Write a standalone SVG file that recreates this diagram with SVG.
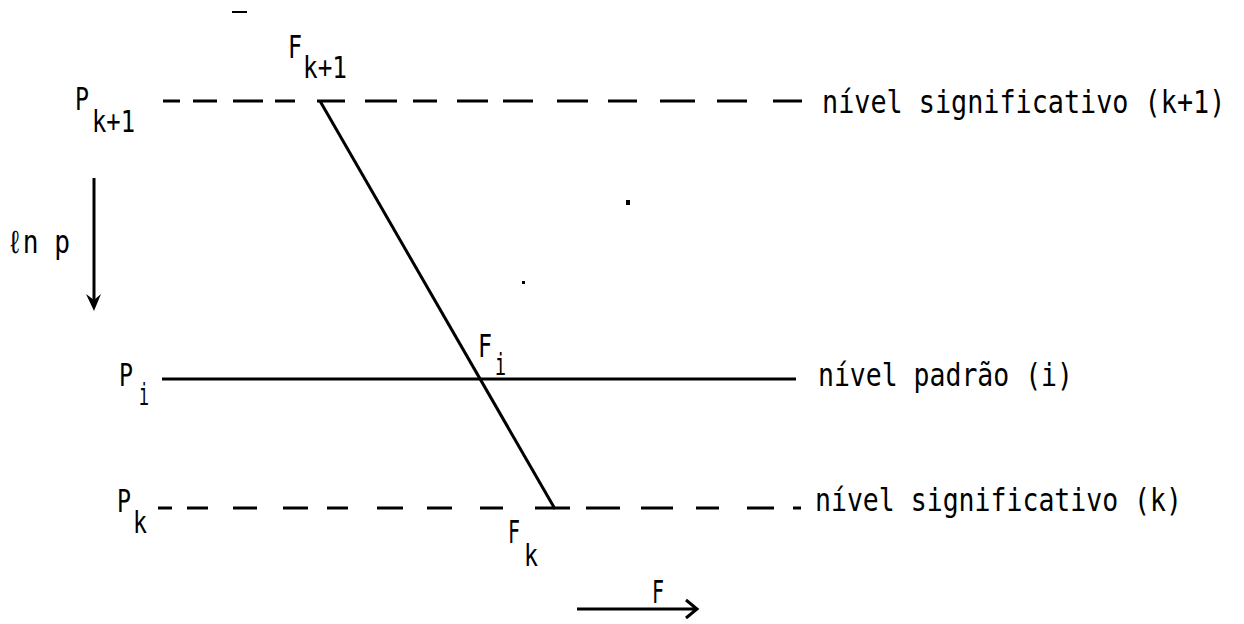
<svg xmlns="http://www.w3.org/2000/svg" width="1244" height="624" viewBox="0 0 1244 624">
<style>
.t{font-family:"DejaVu Sans Mono","Liberation Mono",monospace;font-size:32px;fill:#000}
.s{font-family:"DejaVu Sans Mono","Liberation Mono",monospace;font-size:30px;fill:#000}
.L{font-family:"DejaVu Sans Mono","Liberation Mono",monospace;font-size:26.8px;fill:#000}
.ln{stroke:#000;stroke-width:3;fill:none;stroke-linecap:butt}
</style>
<rect width="1244" height="624" fill="#fff"/>
<g id="connectors">
<path class="ln" d="M163 101H180M193 101H217M233 101H263M275 101H295M317 101H345M365 101H397M413 101H437M457 101H488M503 101H533M557 101H588M608 101H637M660 101H695M717 101H747M773 101H802"/>
<path class="ln" d="M162 379H796"/>
<path class="ln" d="M158 508H172M187 508H208M233 508H257M283 508H308M327 508H348M377 508H403M427 508H452M480 508H503M535 508H570M586 508H620M641 508H673M696 508H719M747 508H774M793 508H801"/>
<path class="ln" d="M320 101L555 509"/>
<path class="ln" d="M94 178V302"/>
<path d="M86 294L94 311L101 294L94 300Z" fill="#000"/>
<path class="ln" d="M577 609H697M686 600L697 609L686 618"/>
</g>
<g id="marks" fill="#000">
<rect x="232" y="11" width="15" height="2"/>
<rect x="626" y="200" width="4" height="5"/>
<rect x="522" y="281" width="3" height="3"/>
</g>
<g id="node-Pk1"><text class="t" x="75" y="110" textLength="14" lengthAdjust="spacingAndGlyphs">P</text><text class="s" x="92" y="132" textLength="43" lengthAdjust="spacingAndGlyphs">k+1</text></g>
<g id="node-Fk1"><text class="t" x="288" y="58" textLength="14" lengthAdjust="spacingAndGlyphs">F</text><text class="s" x="303" y="78" textLength="44" lengthAdjust="spacingAndGlyphs">k+1</text></g>
<g id="node-lnp"><text class="t" x="7" y="253" textLength="63" lengthAdjust="spacingAndGlyphs">ℓn p</text></g>
<g id="node-Pi"><text class="t" x="119" y="386" textLength="14" lengthAdjust="spacingAndGlyphs">P</text><text class="s" x="139" y="405" textLength="10" lengthAdjust="spacingAndGlyphs">i</text></g>
<g id="node-Fi"><text class="t" x="478" y="357" textLength="14" lengthAdjust="spacingAndGlyphs">F</text><text class="s" x="495" y="375" textLength="11" lengthAdjust="spacingAndGlyphs">i</text></g>
<g id="node-Pk"><text class="t" x="117" y="512" textLength="14" lengthAdjust="spacingAndGlyphs">P</text><text class="s" x="133" y="533" textLength="14" lengthAdjust="spacingAndGlyphs">k</text></g>
<g id="node-Fk"><text class="t" x="508" y="543" textLength="12" lengthAdjust="spacingAndGlyphs">F</text><text class="s" x="524" y="566" textLength="14" lengthAdjust="spacingAndGlyphs">k</text></g>
<g id="node-F"><text class="t" x="652" y="603" textLength="12" lengthAdjust="spacingAndGlyphs">F</text></g>
<g id="node-level-k1"><text class="L" transform="translate(822 113) scale(1 1.2)">nível significativo (k+1)</text></g>
<g id="node-level-i"><text class="L" transform="translate(818 386) scale(1 1.2)" textLength="255" lengthAdjust="spacingAndGlyphs">nível padrão (i)</text></g>
<g id="node-level-k"><text class="L" transform="translate(815 511) scale(1 1.2)" textLength="367" lengthAdjust="spacingAndGlyphs">nível significativo (k)</text></g>
</svg>
